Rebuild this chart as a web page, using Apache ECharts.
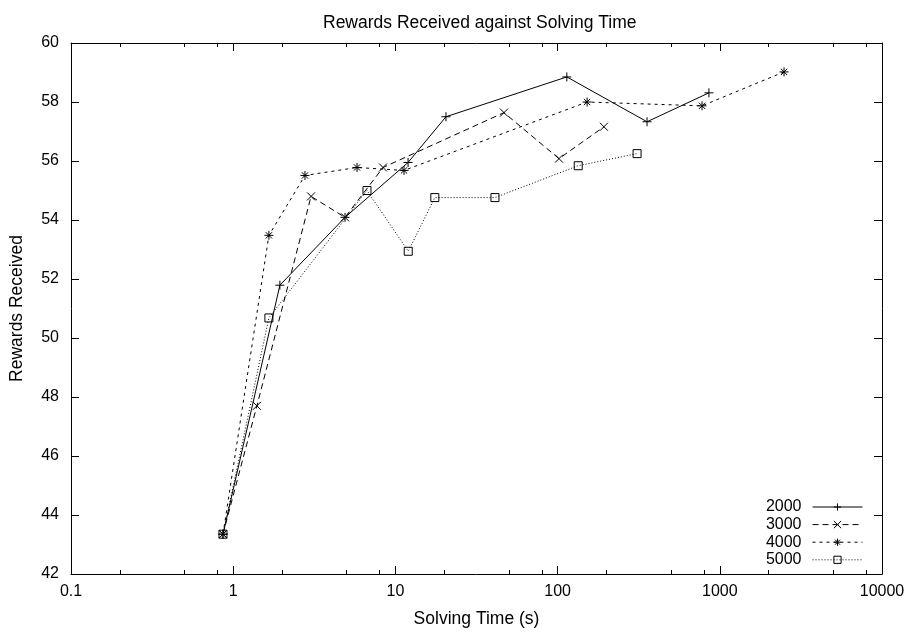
<!DOCTYPE html>
<html>
<head>
<meta charset="utf-8">
<title>Rewards Received against Solving Time</title>
<script src="https://cdn.jsdelivr.net/npm/echarts@6/dist/echarts.min.js"></script>
<style>
  html, body { margin: 0; padding: 0; background: #fff; }
  #chart { width: 913px; height: 633px; }
</style>
</head>
<body>
<div id="chart"></div>
<script>
// Solving time (s) and reward received for each problem size
const time2000 = [0.865, 1.94, 4.89, 11.97, 20.5, 114, 356, 857];
const reward2000 = [43.35, 51.79, 54.09, 55.95, 57.5, 58.85, 57.33, 58.31];

const time3000 = [0.865, 1.40, 3.02, 4.89, 8.39, 46.7, 102, 193];
const reward3000 = [43.35, 47.70, 54.80, 54.09, 55.78, 57.64, 56.08, 57.16];

const time4000 = [0.865, 1.66, 2.77, 5.80, 11.3, 152, 777, 2489];
const reward4000 = [43.35, 53.48, 55.51, 55.78, 55.68, 58.0, 57.87, 59.02];

const time5000 = [0.865, 1.66, 6.68, 12.0, 17.5, 41.1, 134, 309];
const reward5000 = [43.35, 50.68, 55.0, 52.94, 54.76, 54.76, 55.84, 56.25];

const seriesNames = ['2000', '3000', '4000', '5000'];

// Minor tick positions on the logarithmic time axis
const minorTimeTicks = [0.2, 0.5, 0.8, 2, 5, 8, 20, 50, 80, 200, 500, 800, 2000, 5000, 8000];

const FONT = 'Liberation Sans';
const INK = '#000';

function pairs(xs, ys) {
  return xs.map((x, i) => [x, ys[i]]);
}

// Plain number text for the log-axis labels (0.1, 1, 10, ... 10000)
function plainNumber(v) {
  return String(parseFloat(Number(v).toPrecision(6)));
}

const SYM_PLUS = 'path://M0,5L10,5M5,0L5,10';
const SYM_CROSS = 'path://M0,0L10,10M10,0L0,10';
const SYM_STAR = 'path://M0,5L10,5M5,0L5,10M1.5,1.5L8.5,8.5M8.5,1.5L1.5,8.5';
const SYM_BOX = 'path://M0,0L10,0L10,10L0,10Z';

function makeSeries(name, xs, ys, symbol, size, dash) {
  return {
    name: name,
    type: 'line',
    xAxisIndex: 0,
    yAxisIndex: 0,
    data: pairs(xs, ys),
    symbol: symbol,
    symbolSize: size,
    showAllSymbol: true,
    lineStyle: { color: INK, width: 1, type: dash },
    itemStyle: { color: 'rgba(0,0,0,0)', borderColor: INK, borderWidth: 1 },
    emphasis: { disabled: true }
  };
}

const xRange = { type: 'log', logBase: 10, min: 0.1, max: 10000 };

const chart = echarts.init(document.getElementById('chart'), null, { renderer: 'canvas' });
chart.setOption({
  animation: false,
  backgroundColor: '#fff',
  textStyle: { fontFamily: FONT, color: INK },
  title: {
    text: 'Rewards Received against Solving Time',
    left: 318,
    top: 9,
    textStyle: { fontFamily: FONT, fontSize: 17.5, fontWeight: 'normal', color: INK }
  },
  grid: { left: 71, right: 31, top: 43, bottom: 57, containLabel: false },
  legend: {
    data: seriesNames,
    orient: 'vertical',
    right: 45,
    top: 494,
    align: 'right',
    itemWidth: 50,
    itemHeight: 9,
    itemGap: 1.6,
    selectedMode: false,
    lineStyle: { width: 1 },
    itemStyle: { borderWidth: 1, color: 'rgba(0,0,0,0)', borderColor: INK },
    textStyle: { fontFamily: FONT, fontSize: 16, color: INK, padding: [0, 6, 0, 0] }
  },
  xAxis: [
    Object.assign({}, xRange, {
      position: 'bottom',
      name: 'Solving Time (s)',
      nameLocation: 'middle',
      nameGap: 36,
      nameTextStyle: { fontFamily: FONT, fontSize: 17.5, color: INK },
      axisLine: { lineStyle: { color: INK, width: 1 } },
      axisTick: { inside: true, length: 8, lineStyle: { color: INK } },
      axisLabel: { margin: 10, fontFamily: FONT, fontSize: 16, color: INK, formatter: plainNumber },
      splitLine: { show: false },
      minorTick: { show: false }
    }),
    Object.assign({}, xRange, {
      position: 'bottom',
      axisLine: { show: false },
      axisTick: { inside: true, length: 4, lineStyle: { color: INK }, customValues: minorTimeTicks },
      axisLabel: { show: false },
      splitLine: { show: false }
    }),
    Object.assign({}, xRange, {
      position: 'top',
      axisLine: { lineStyle: { color: INK, width: 1 } },
      axisTick: { inside: true, length: 8, lineStyle: { color: INK } },
      axisLabel: { show: false },
      splitLine: { show: false }
    }),
    Object.assign({}, xRange, {
      position: 'top',
      axisLine: { show: false },
      axisTick: { inside: true, length: 4, lineStyle: { color: INK }, customValues: minorTimeTicks },
      axisLabel: { show: false },
      splitLine: { show: false }
    })
  ],
  yAxis: [
    {
      type: 'value',
      position: 'left',
      min: 42,
      max: 60,
      interval: 2,
      name: 'Rewards Received',
      nameLocation: 'middle',
      nameGap: 45,
      nameTextStyle: { fontFamily: FONT, fontSize: 17.5, color: INK },
      axisLine: { show: true, lineStyle: { color: INK, width: 1 } },
      axisTick: { show: true, inside: true, length: 8, lineStyle: { color: INK } },
      axisLabel: { margin: 12, fontFamily: FONT, fontSize: 16, color: INK },
      splitLine: { show: false }
    },
    {
      type: 'value',
      position: 'right',
      min: 42,
      max: 60,
      interval: 2,
      axisLine: { show: true, lineStyle: { color: INK, width: 1 } },
      axisTick: { show: true, inside: true, length: 8, lineStyle: { color: INK } },
      axisLabel: { show: false },
      splitLine: { show: false }
    }
  ],
  series: [
    makeSeries('2000', time2000, reward2000, SYM_PLUS, 9, 'solid'),
    makeSeries('3000', time3000, reward3000, SYM_CROSS, 8, [6, 4]),
    makeSeries('4000', time4000, reward4000, SYM_STAR, 9, [3, 4]),
    makeSeries('5000', time5000, reward5000, SYM_BOX, 8, [1, 2])
  ]
});
</script>
</body>
</html>
